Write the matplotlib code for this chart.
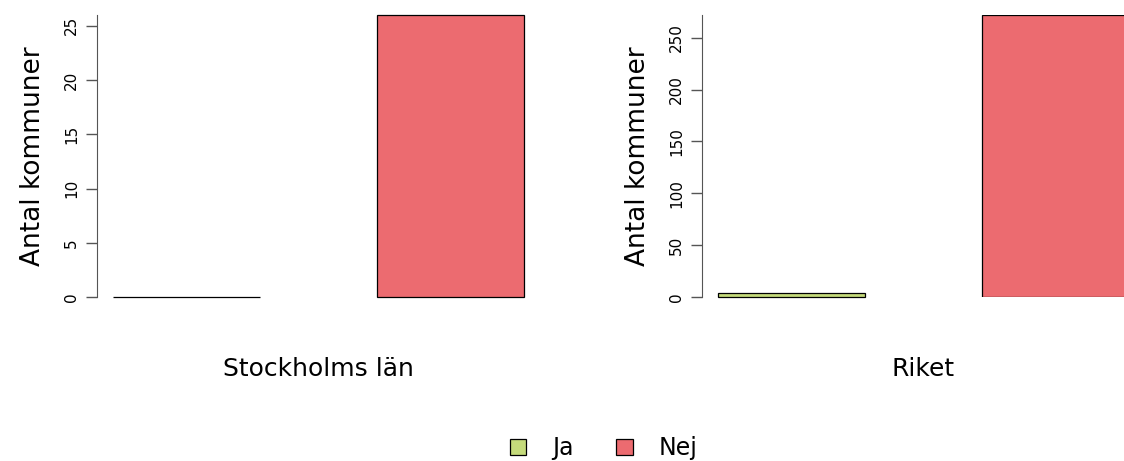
import matplotlib.pyplot as plt
from matplotlib.patches import Patch

kategorier = ['Ja', 'Nej']
farger = ['#C5DB7B', '#EC6B70']
regioner = ['Stockholms län', 'Riket']
stockholm = [0, 26]
riket = [4, 272]
yticks_sthlm = [0, 5, 10, 15, 20, 25]
yticks_riket = [0, 50, 100, 150, 200, 250]

W, H = 1124, 461
fig = plt.figure(figsize=(W / 100, H / 100), dpi=100)
plt.rcParams['font.family'] = 'DejaVu Sans'


def panel(left_px, values, ticks, title):
    ax = fig.add_axes([left_px / W, (H - 297) / H, 443 / W, 282 / H])
    bars = ax.bar([0, 1], values, width=0.557, color=farger, edgecolor='black', linewidth=0.9)
    for b in bars:
        b.set_clip_on(False)
    ax.set_xlim(-0.339, 1.339)
    ax.set_ylim(0, max(values))
    ax.set_yticks(ticks)
    ax.set_yticklabels([str(t) for t in ticks], rotation=90, va='center', fontsize=11)
    ax.tick_params(axis='y', length=8, width=1, color='#555555', pad=5)
    ax.set_xticks([])
    for s in ['top', 'right', 'bottom']:
        ax.spines[s].set_visible(False)
    ax.spines['left'].set_color('#555555')
    ax.set_ylabel('Antal kommuner', fontsize=19, labelpad=13)
    ax.set_xlabel(title, fontsize=18, labelpad=43)
    return ax


panel(97, stockholm, yticks_sthlm, regioner[0])
ax2 = panel(702, riket, yticks_riket, regioner[1])
# right bar runs past the figure edge in the reference
ax2.patches[1].set_clip_on(True)

handles = [Patch(facecolor=c, edgecolor='black', linewidth=0.9, label=k)
           for c, k in zip(farger, kategorier)]
fig.legend(handles=handles, loc='lower center', bbox_to_anchor=(0.537, -0.045), ncol=2,
           frameon=False, fontsize=17, handlelength=0.7, handleheight=0.7,
           handletextpad=1.1, columnspacing=1.8)

fig.savefig('out.png', dpi=100)
